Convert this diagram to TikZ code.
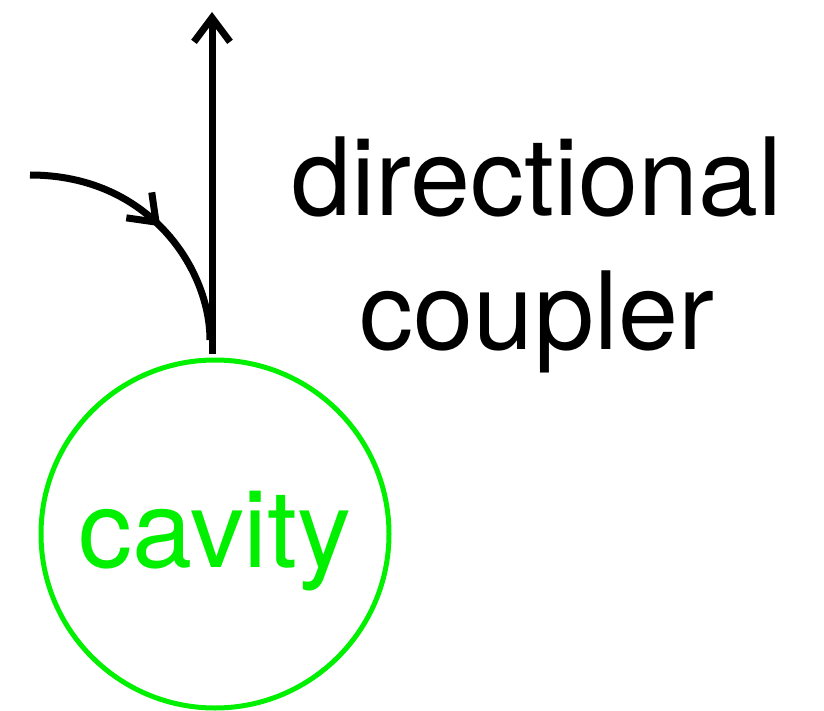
\documentclass[tikz,border=0pt]{standalone}
\usepackage{fontspec}
\setmainfont{TeX Gyre Heros}
\usetikzlibrary{arrows.meta,decorations.markings}
\definecolor{cavgreen}{RGB}{0,240,0}
\tikzset{
  wire/.style={line width=7pt, black},
  barb/.style={-{Straight Barb[length=24pt,width=36pt]}},
  bigtext/.style={font=\fontsize{108}{133}\selectfont, inner sep=0pt, anchor=base},
  cavitycircle/.style={circle, draw=cavgreen, line width=5pt, minimum size=348pt, inner sep=0pt},
  midarrow/.style={postaction={decorate, decoration={markings,
      mark=at position 0.53 with {\arrow{Straight Barb[length=24pt,width=36pt]}}}}}
}
\begin{document}
\begin{tikzpicture}[x=1pt,y=-1pt]
\useasboundingbox (0,0) rectangle (824,711);
\node[cavitycircle] (cavity) at (215,534) {};
\node[bigtext, text=cavgreen] (cavlabel) at (215,567) {cavity};
\node[bigtext] (dir) at (537,216) {directional};
\node[bigtext] (coup) at (537,349) {coupler};
\coordinate (outbot) at (212,354);
\coordinate (outtop) at (212,12);
\coordinate (instart) at (30,175);
\coordinate (inend) at (210,340);
\draw[wire, barb] (outbot) -- (outtop);
\draw[wire, midarrow] (instart) .. controls (150,175) and (210,270) .. (inend);
\end{tikzpicture}
\end{document}
